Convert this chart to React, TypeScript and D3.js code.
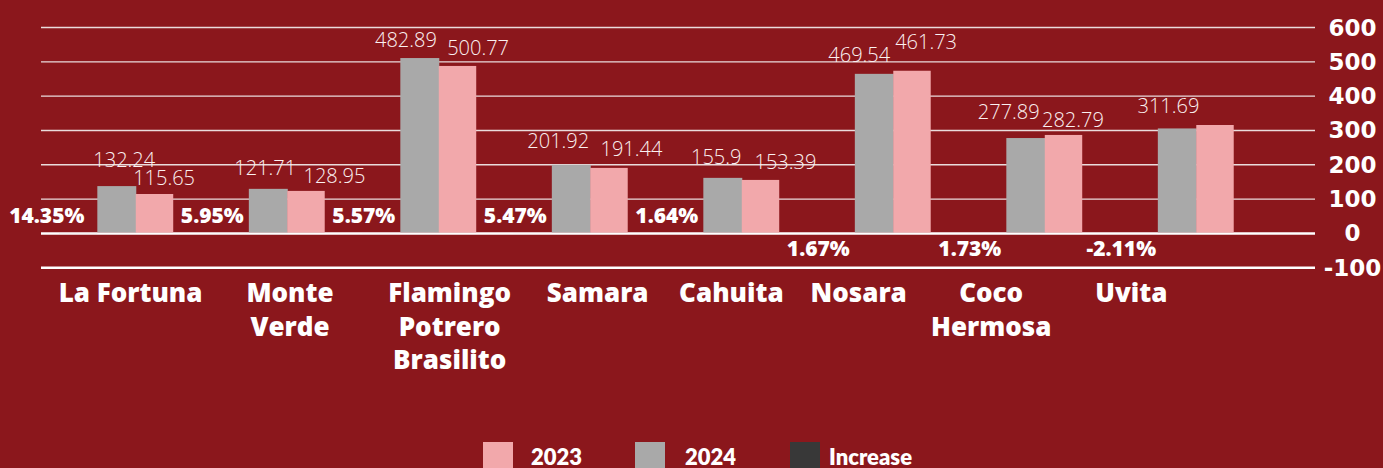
import React from "react";
import * as d3 from "d3";

const categories = ["La Fortuna", "Monte Verde", "Flamingo Potrero Brasilito", "Samara", "Cahuita", "Nosara", "Coco Hermosa", "Uvita"];
const categoryLines = [["La Fortuna"], ["Monte", "Verde"], ["Flamingo", "Potrero", "Brasilito"], ["Samara"], ["Cahuita"], ["Nosara"], ["Coco", "Hermosa"], ["Uvita"]];
const values2024 = [138, 130, 511, 200, 162, 465, 278, 306];
const values2023 = [115, 124, 488, 191, 156, 474, 287, 316];
const increasePct = [14.35, 5.95, 5.57, 5.47, 1.64, 1.67, 1.73, -2.11];
const labelsLeft = ["132.24", "121.71", "482.89", "201.92", "155.9", "469.54", "277.89", ""];
const labelsRight = ["115.65", "128.95", "500.77", "191.44", "153.39", "461.73", "282.79", "311.69"];
const yTicks = [-100, 0, 100, 200, 300, 400, 500, 600];
const seriesNames = ["2023", "2024", "Increase"];

// layout nudges (pixels) for manually placed labels
const leftLabelNudge = [[7.7, -19.3], [-2.8, -14], [-13.6, -11.3], [-12.8, -17.3], [-6.3, -14], [-14.8, -11.7], [-16.8, -19], [0, 0]];
const rightLabelNudge = [[9.1, -9], [27.9, -7.7], [20.1, -11], [21.9, -12.3], [24.4, -11], [13.6, -21.7], [8.9, -8.3], [-47.1, -12.3]];
const catLabelNudge = [-5.2, 2.7, 10.9, 7.4, -10.4, -34.6, -53.6, -64.9];
const pctNudge = [-14, 0, 0, 0, 0, 0, 0, 0];
const pctBelow = [false, false, false, false, false, true, true, true];

const W = 1383;
const H = 468;
const BG = "#8B171C";
const GRAY = "#A9A9A9";
const PINK = "#F2A8AB";
const DARK = "#383838";

export default function App() {
  const x = d3.scaleBand<string>().domain(categories).range([40.8, 40.8 + 8 * 151.5]).padding(0);
  const bw = x.bandwidth();
  const sub = d3.scaleBand<string>().domain(["Increase", "2024", "2023"]).range([0, bw]).paddingInner(0).paddingOuter(0.47);
  const y = d3.scaleLinear().domain([-100, 600]).range([267.8, 27.5]);
  const sw = sub.bandwidth();

  return (
    <div style={{ position: "fixed", left: 0, top: 0, width: W, height: H, background: BG }}>
      <svg width={W} height={H} style={{ display: "block" }}>
        <rect x={0} y={0} width={W} height={H} fill={BG} />
        {yTicks.map((t) => (
          <line key={t} x1={41} x2={1315} y1={y(t)} y2={y(t)} stroke={t <= 0 ? "#ffffff" : "#eadcdc"} strokeWidth={t <= 0 ? 2.4 : 1.4} />
        ))}
        {yTicks.map((t) => (
          <text key={"yl" + t} x={1352.5} y={y(t) + 8} textAnchor="middle" fill="#ffffff" fontFamily="'DejaVu Sans', sans-serif" fontWeight={700} fontSize={23}>
            {t}
          </text>
        ))}
        {categories.map((c, i) => {
          const x0 = x(c)!;
          const gx = x0 + sub("2024")!;
          const px = x0 + sub("2023")!;
          const ix = x0 + sub("Increase")!;
          const incV = increasePct[i] / 100;
          return (
            <g key={c}>
              <rect x={ix} width={sw} y={Math.min(y(incV), y(0))} height={Math.abs(y(incV) - y(0))} fill={DARK} />
              <rect x={gx} width={sw + 0.5} y={y(values2024[i])} height={y(0) - y(values2024[i]) - 1} fill={GRAY} />
              <rect x={px} width={sw - 1} y={y(values2023[i])} height={y(0) - y(values2023[i]) - 1} fill={PINK} />
            </g>
          );
        })}
        {categories.map((c, i) => {
          const x0 = x(c)!;
          const gc = x0 + sub("2024")! + sw / 2;
          const pc = x0 + sub("2023")! + sw / 2;
          return (
            <g key={"lab" + c} fontFamily="'Open Sans', sans-serif" fontWeight={300} fontSize={20} fill="#fbf1f1" textAnchor="middle">
              {labelsLeft[i] && (
                <text x={gc + leftLabelNudge[i][0]} y={y(values2024[i]) + leftLabelNudge[i][1]}>{labelsLeft[i]}</text>
              )}
              {labelsRight[i] && (
                <text x={pc + rightLabelNudge[i][0]} y={y(values2023[i]) + rightLabelNudge[i][1]}>{labelsRight[i]}</text>
              )}
            </g>
          );
        })}
        {categories.map((c, i) => {
          const x0 = x(c)!;
          const cx = x0 + 20 + pctNudge[i];
          return (
            <text key={"pct" + c} x={cx} y={pctBelow[i] ? 256 : 223} textAnchor="middle" fill="#ffffff" fontFamily="'Open Sans', sans-serif" fontWeight={800} fontSize={21}>
              {increasePct[i].toFixed(2) + "%"}
            </text>
          );
        })}
        {categories.map((c, i) => {
          const cx = x(c)! + sub("2024")! + sw + catLabelNudge[i];
          return (
            <text key={"cat" + c} x={cx} textAnchor="middle" fill="#ffffff" fontFamily="'Open Sans', sans-serif" fontWeight={800} fontSize={26}>
              {categoryLines[i].map((ln, j) => (
                <tspan key={j} x={cx} y={302.3 + j * 33.5}>{ln}</tspan>
              ))}
            </text>
          );
        })}
        {seriesNames.map((s, i) => {
          const sx = [483, 635, 790][i];
          const tx = [531, 685, 829][i];
          const col = [PINK, GRAY, DARK][i];
          return (
            <g key={"leg" + s}>
              <rect x={sx} y={442} width={30} height={30} fill={col} />
              <text x={tx} y={465} fill="#ffffff" fontFamily="Lato, sans-serif" fontWeight={800} fontSize={22}>{s}</text>
            </g>
          );
        })}
      </svg>
    </div>
  );
}
